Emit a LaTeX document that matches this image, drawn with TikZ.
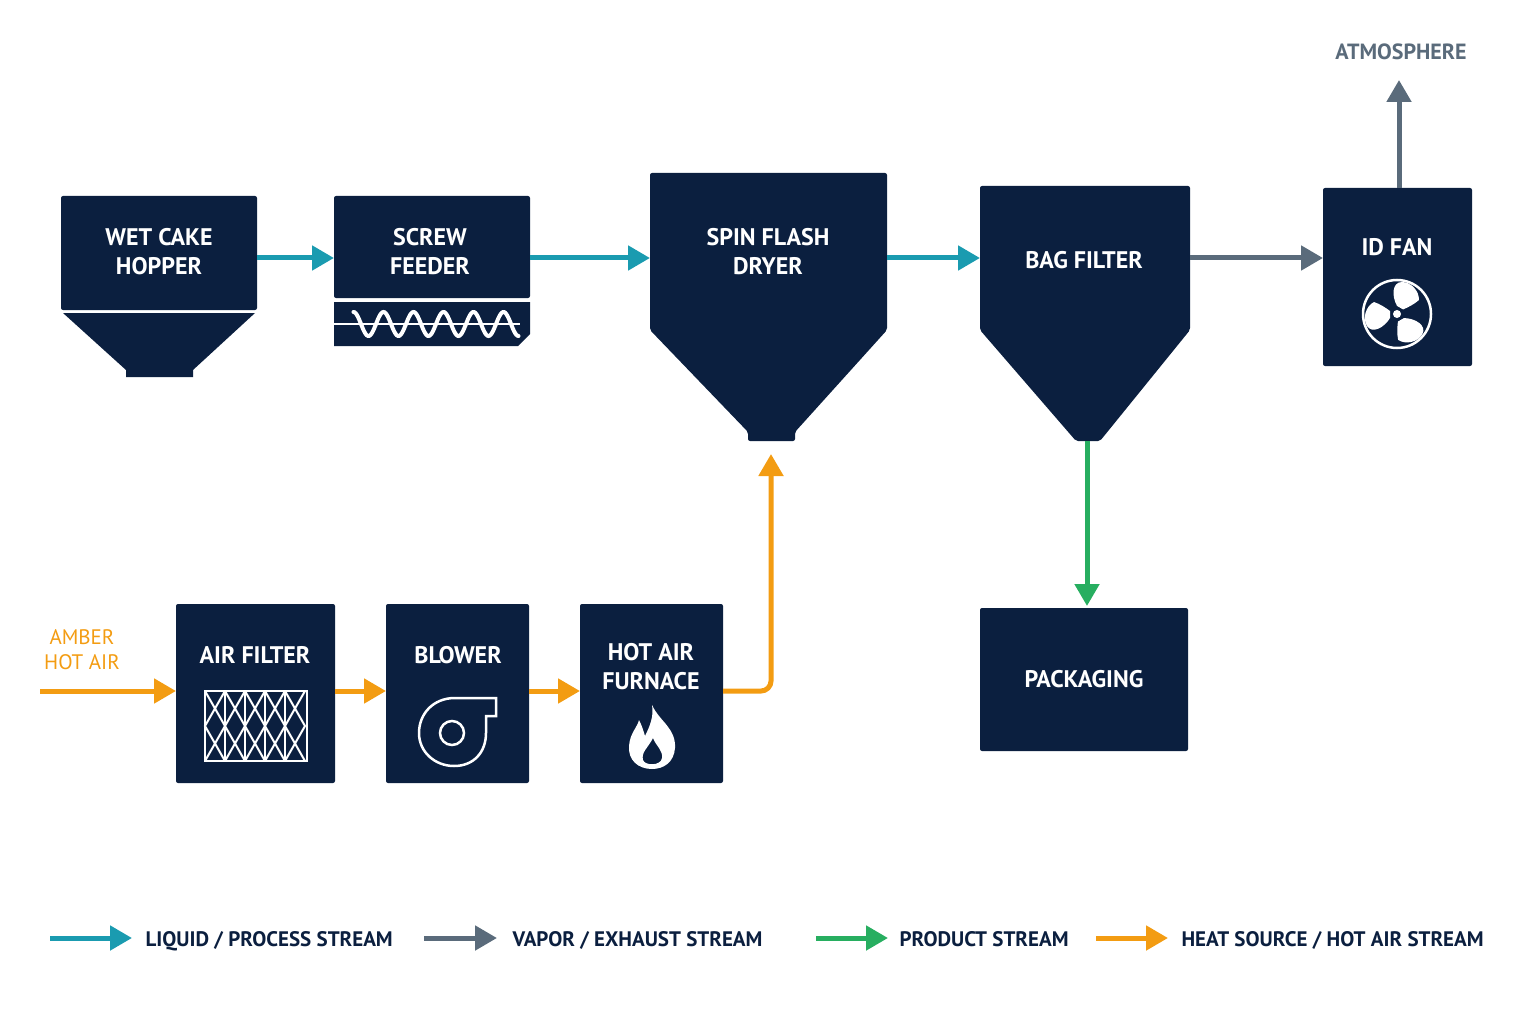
\documentclass[tikz,border=0pt]{standalone}
\usepackage{fontspec}
\setmainfont{PT Sans}
\usetikzlibrary{arrows.meta}
\definecolor{navy}{HTML}{0B1F3F}
\definecolor{teal}{HTML}{1A9BB0}
\definecolor{slate}{HTML}{5A6B7B}
\definecolor{grn}{HTML}{27AE60}
\definecolor{amb}{HTML}{F39C12}
\begin{document}
\begin{tikzpicture}[x=1pt,y=-1pt,
 box/.style={fill=navy,rounded corners=2pt},
 lbl/.style={text=white,font=\bfseries\fontsize{24}{29}\selectfont,align=center},
 flow/.style={line width=5pt,-{Triangle[width=24pt,length=22pt]}},
 leg/.style={text=navy,font=\bfseries\fontsize{21}{24}\selectfont,anchor=base west}]
\useasboundingbox (0,0) rectangle (1536,1024);
% wet cake hopper
\fill[box] (61,196) rectangle (257,310);
\fill[navy] (63,313) -- (255,313) -- (193,370) -- (193,377) -- (126,377) -- (126,370) -- cycle;
\node[lbl] (hop) at (159,252) {WET CAKE\\HOPPER};
\coordinate (hopR) at (257,258);
% screw feeder
\fill[box] (334,196) rectangle (530,298);
\fill[navy] (334,302) -- (530,302) -- (530,334) -- (518,346) -- (334,346) -- cycle;
\node[lbl] (scr) at (430,252) {SCREW\\FEEDER};
\draw[white,line width=2.5pt] (334,324) -- (520,324);
\draw[white,line width=4pt,line cap=round,domain=0.25:5.75,samples=150,smooth] plot ({346+\x*30},{324-12*sin(\x*360)});
\coordinate (scrL) at (334,258); \coordinate (scrR) at (530,258);
% spin flash dryer
\fill[navy,rounded corners=2pt] (650,173) -- (887,173) -- (887,330) -- (795,432) -- (795,441) -- (748,441) -- (748,432) -- (650,330) -- cycle;
\node[lbl] (dry) at (768,252) {SPIN FLASH\\DRYER};
\coordinate (dryL) at (650,258); \coordinate (dryR) at (887,258); \coordinate (dryB) at (771,441);
% bag filter
\fill[navy,rounded corners=2pt] (980,186) -- (1190,186) -- (1190,330) -- (1100,441) -- (1076,441) -- (980,330) -- cycle;
\node[lbl] (bag) at (1084,260) {BAG FILTER};
\coordinate (bagL) at (980,258); \coordinate (bagR) at (1190,258); \coordinate (bagB) at (1087,441);
% id fan
\fill[box] (1323,188) rectangle (1472,366);
\node[lbl] (fan) at (1397,247) {ID FAN};
\draw[white,line width=2.5pt] (1397,314) circle (34);
\fill[white] (1397,314) circle (4);
\foreach \a in {-60,60,180}{
 \fill[white,rotate around={\a:(1397,314)}] (1404,310) .. controls (1410,300) and (1422,294) .. (1427,302) .. controls (1432,310) and (1428,322) .. (1420,326) .. controls (1414,324) and (1408,320) .. (1404,317) -- cycle;}
\coordinate (fanT) at (1399,188); \coordinate (fanL) at (1323,258);
\node[text=slate,font=\bfseries\fontsize{22}{26}\selectfont] (atm) at (1401,52) {ATMOSPHERE};
\coordinate (atmB) at (1399,80);
% packaging
\fill[box] (980,608) rectangle (1188,751);
\node[lbl] (pack) at (1084,679) {PACKAGING};
\coordinate (packT) at (1087,606);
% air filter
\fill[box] (176,604) rectangle (335,783);
\node[lbl] (af) at (255,655) {AIR FILTER};
\begin{scope}[white,line width=2pt]
\draw (205,691) rectangle (307,761);
\foreach \x in {225,245,265,285}{\draw (\x,691) -- (\x,761);}
\foreach \x in {205,225,245,265,285}{
 \draw (\x,691) -- (\x+20,726) -- (\x,761); \draw (\x+20,691) -- (\x,726) -- (\x+20,761);}
\end{scope}
\coordinate (afL) at (176,691); \coordinate (afR) at (335,691);
% blower
\fill[box] (386,604) rectangle (529,783);
\node[lbl] (bl) at (458,655) {BLOWER};
\draw[white,line width=2.5pt] (452,733) circle (12);
\draw[white,line width=2.5pt] (496,698) -- (455,698) .. controls (433,698) and (419,714) .. (419,733) .. controls (419,752) and (435,766) .. (454,766) .. controls (474,766) and (486,752) .. (486,733) -- (486,716) -- (496,716) -- cycle;
\coordinate (blL) at (386,691); \coordinate (blR) at (529,691);
% furnace
\fill[box] (580,604) rectangle (723,783);
\node[lbl] (fur) at (651,667) {HOT AIR\\FURNACE};
\fill[white,even odd rule] (652,705) .. controls (660,722) and (676,728) .. (675,748) .. controls (674,762) and (664,769) .. (652,769) .. controls (638,769) and (628,760) .. (629,746) .. controls (630,733) and (637,728) .. (639,720) .. controls (643,728) and (644,733) .. (645,736) .. controls (650,726) and (654,716) .. (652,705) -- cycle
 (653,738) .. controls (648,748) and (641,752) .. (643,760) .. controls (645,766) and (661,766) .. (662,758) .. controls (663,750) and (656,746) .. (653,738) -- cycle;
\coordinate (furL) at (580,691); \coordinate (furR) at (723,691);
\node[text=amb,font=\fontsize{21}{25}\selectfont,align=center] (amber) at (82,650) {AMBER\\HOT AIR};
\coordinate (src) at (40,691);
% flows
\draw[flow,teal] (hopR) -- (scrL);
\draw[flow,teal] (scrR) -- (dryL);
\draw[flow,teal] (dryR) -- (bagL);
\draw[flow,slate] (bagR) -- (fanL);
\draw[flow,slate] (fanT) -- (atmB);
\draw[flow,grn] (bagB) -- (packT);
\draw[flow,amb] (src) -- (afL);
\draw[flow,amb] (afR) -- (blL);
\draw[flow,amb] (blR) -- (furL);
\draw[flow,amb,rounded corners=10pt] (furR) -- (771,691) -- (771,454);
% legend
\coordinate (l1a) at (50,938); \coordinate (l1b) at (132,938);
\coordinate (l2a) at (424,938); \coordinate (l2b) at (497,938);
\coordinate (l3a) at (816,938); \coordinate (l3b) at (888,938);
\coordinate (l4a) at (1096,938); \coordinate (l4b) at (1168,938);
\draw[flow,teal] (l1a) -- (l1b); \node[leg] (t1) at (142,946) {LIQUID / PROCESS STREAM};
\draw[flow,slate] (l2a) -- (l2b); \node[leg] (t2) at (509,946) {VAPOR / EXHAUST STREAM};
\draw[flow,grn] (l3a) -- (l3b); \node[leg] (t3) at (896,946) {PRODUCT STREAM};
\draw[flow,amb] (l4a) -- (l4b); \node[leg] (t4) at (1178,946) {HEAT SOURCE / HOT AIR STREAM};
\end{tikzpicture}
\end{document}
